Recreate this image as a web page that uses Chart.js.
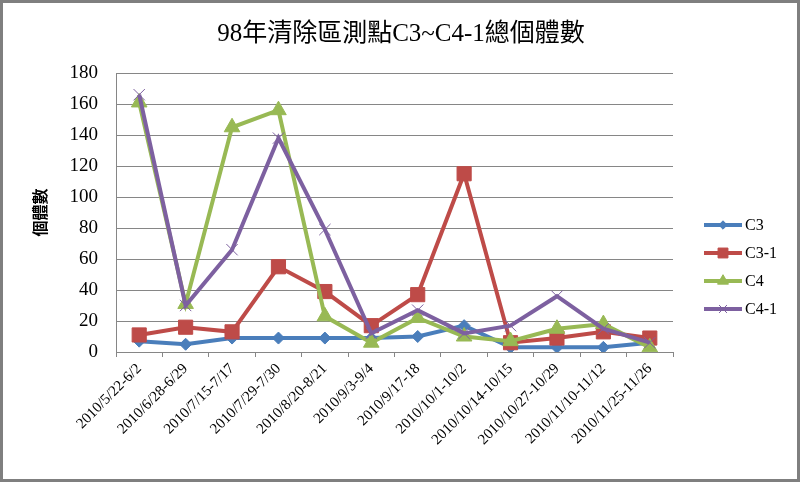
<!DOCTYPE html>
<html>
<head>
<meta charset="utf-8">
<title>98年清除區測點C3~C4-1總個體數</title>
<script src="https://cdn.jsdelivr.net/npm/chart.js"></script>
<style>
    html, body { margin: 0; padding: 0; background: #fff; }
    #wrap { width: 800px; height: 482px; position: relative; }
</style>
</head>
<body>
<div id="wrap"><canvas id="chart"></canvas></div>
<script>
    // survey periods (x axis)
    const categories = [
        '2010/5/22-6/2', '2010/6/28-6/29', '2010/7/15-7/17', '2010/7/29-7/30',
        '2010/8/20-8/21', '2010/9/3-9/4', '2010/9/17-18', '2010/10/1-10/2',
        '2010/10/14-10/15', '2010/10/27-10/29', '2010/11/10-11/12', '2010/11/25-11/26'
    ];
    const seriesNames = ['C3', 'C3-1', 'C4', 'C4-1'];
    const c3 = [7, 5, 9, 9, 9, 9, 10, 17, 3, 3, 3, 6];
    const c3_1 = [11, 16, 13, 55, 39, 17, 37, 115, 6, 9, 13, 9];
    const c4 = [161, 31, 145, 156, 23, 6, 22, 10, 7, 15, 18, 3];
    const c4_1 = [166, 30, 66, 138, 79, 12, 27, 12, 17, 36, 15, 6];
    const yTicks = [0, 20, 40, 60, 80, 100, 120, 140, 160, 180];
    const chartTitle = '98年清除區測點C3~C4-1總個體數';

    const serif = '"Liberation Serif", "DejaVu Serif", serif';
    const cjk = '"Liberation Serif", "Noto Sans CJK TC", serif';

    const styles = [
        { color: '#4a7ebb', point: 'rectRot', radius: 6 },
        { color: '#be4b48', point: 'rect', radius: 10 },
        { color: '#98b954', point: 'triangle', radius: 9 },
        { color: '#7d60a0', point: 'crossRot', radius: 8 }
    ];
    const values = [c3, c3_1, c4, c4_1];

    const datasets = values.map((v, i) => ({
        label: seriesNames[i],
        data: v,
        borderColor: styles[i].color,
        backgroundColor: styles[i].color,
        borderWidth: 4,
        pointStyle: styles[i].point,
        pointRadius: styles[i].radius,
        pointHoverRadius: styles[i].radius,
        pointBorderWidth: 1,
        pointBorderColor: styles[i].color,
        pointBackgroundColor: styles[i].color,
        tension: 0,
        order: 4 - i
    }));

    // title centred on the whole picture, not on the plot
    const topTitle = {
        id: 'topTitle',
        afterDraw(chart) {
            const ctx = chart.ctx;
            ctx.save();
            ctx.fillStyle = '#000';
            ctx.font = '25px ' + cjk;
            ctx.textAlign = 'center';
            ctx.textBaseline = 'middle';
            ctx.fillText(chartTitle, 401, 34);
            ctx.restore();
        }
    };

    // excel-style legend on the right: line + marker + name
    const sideLegend = {
        id: 'sideLegend',
        afterDraw(chart) {
            const ctx = chart.ctx;
            const x0 = 704, x1 = 742, tx = 745;
            const ys = [225, 253, 281, 309];
            chart.data.datasets.forEach((ds, i) => {
                const y = ys[i];
                ctx.save();
                ctx.strokeStyle = ds.borderColor;
                ctx.lineWidth = 4;
                ctx.beginPath();
                ctx.moveTo(x0, y);
                ctx.lineTo(x1, y);
                ctx.stroke();
                ctx.fillStyle = ds.pointBackgroundColor;
                ctx.strokeStyle = ds.pointBorderColor;
                ctx.lineWidth = 1;
                Chart.helpers.drawPoint(ctx, {
                    pointStyle: ds.pointStyle,
                    radius: ds.pointRadius * 0.7,
                    rotation: 0,
                    borderWidth: 1
                }, (x0 + x1) / 2, y);
                ctx.fillStyle = '#000';
                ctx.font = '16px ' + serif;
                ctx.textBaseline = 'middle';
                ctx.textAlign = 'left';
                ctx.fillText(ds.label, tx, y + 1);
                ctx.restore();
            });
        }
    };

    const frame = {
        id: 'frame',
        beforeDraw(chart) {
            const ctx = chart.ctx;
            ctx.save();
            ctx.fillStyle = '#fff';
            ctx.fillRect(0, 0, chart.width, chart.height);
            ctx.restore();
        },
        afterDraw(chart) {
            const ctx = chart.ctx;
            ctx.save();
            ctx.strokeStyle = '#7f7f7f';
            ctx.lineWidth = 3;
            ctx.strokeRect(1.5, 1.5, chart.width - 3, chart.height - 3);
            ctx.restore();
        }
    };

    new Chart(document.getElementById('chart'), {
        type: 'line',
        data: { labels: categories, datasets: datasets },
        plugins: [frame, topTitle, sideLegend],
        options: {
            responsive: true,
            maintainAspectRatio: false,
            animation: false,
            layout: { padding: { left: 30, right: 127, top: 73, bottom: 0 } },
            plugins: {
                legend: { display: false },
                tooltip: { enabled: false },
                title: { display: false }
            },
            scales: {
                x: {
                    offset: true,
                    grid: {
                        offset: true,
                        drawOnChartArea: false,
                        drawTicks: true,
                        tickLength: 5,
                        color: '#868686'
                    },
                    border: { color: '#868686', width: 1 },
                    ticks: {
                        color: '#000',
                        font: { family: serif, size: 15 },
                        minRotation: 45,
                        maxRotation: 45,
                        padding: 3,
                        autoSkip: false
                    },
                    afterFit(s) { s.height = 130; }
                },
                y: {
                    min: 0,
                    max: 180,
                    afterBuildTicks(s) { s.ticks = yTicks.map(v => ({ value: v })); },
                    grid: { color: '#868686', drawTicks: false },
                    border: { color: '#868686', width: 1 },
                    ticks: {
                        color: '#000',
                        font: { family: serif, size: 19 },
                        padding: 18
                    },
                    title: {
                        display: true,
                        text: '個體數',
                        color: '#000',
                        font: { family: '"Noto Sans CJK TC", sans-serif', size: 16, weight: 'bold' },
                        padding: 0
                    },
                    afterFit(s) { s.width = 86; }
                }
            }
        }
    });
</script>
</body>
</html>
